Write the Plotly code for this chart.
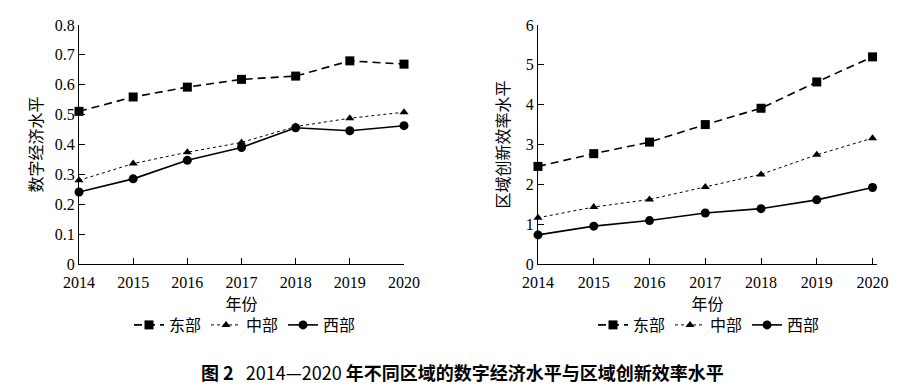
import plotly.graph_objects as go

years = [2014, 2015, 2016, 2017, 2018, 2019, 2020]
series_names = ["东部", "中部", "西部"]
digital_east = [0.511, 0.559, 0.592, 0.618, 0.629, 0.680, 0.669]
digital_central = [0.280, 0.336, 0.374, 0.407, 0.460, 0.488, 0.508]
digital_west = [0.241, 0.285, 0.347, 0.390, 0.456, 0.446, 0.463]
innov_east = [2.45, 2.77, 3.06, 3.50, 3.91, 4.57, 5.20]
innov_central = [1.16, 1.43, 1.62, 1.93, 2.25, 2.74, 3.16]
innov_west = [0.73, 0.95, 1.09, 1.28, 1.39, 1.61, 1.92]

W, H = 907, 388
serif = "Liberation Serif, Times New Roman, serif"
cjk = "Noto Sans CJK SC, sans-serif"

styles = [
    dict(line=dict(color="black", width=1.6, dash="8px,5px"), marker=dict(symbol="square", size=9, color="black")),
    dict(line=dict(color="black", width=1.0, dash="dot"), marker=dict(symbol="triangle-up", size=8, color="black")),
    dict(line=dict(color="black", width=1.6, dash="solid"), marker=dict(symbol="circle", size=9, color="black")),
]

fig = go.Figure()
left_sets = [digital_east, digital_central, digital_west]
right_sets = [innov_east, innov_central, innov_west]
for name, vals, st in zip(series_names, left_sets, styles):
    fig.add_trace(go.Scatter(x=years, y=vals, name=name, mode="lines+markers",
                             xaxis="x", yaxis="y", legend="legend", cliponaxis=False, **st))
for name, vals, st in zip(series_names, right_sets, styles):
    fig.add_trace(go.Scatter(x=years, y=vals, name=name, mode="lines+markers",
                             xaxis="x2", yaxis="y2", legend="legend2", cliponaxis=False, **st))

ydom = [(H - 264) / H, (H - 25) / H]
axis_common = dict(showline=True, linecolor="black", linewidth=1.2, ticks="inside", ticklen=6,
                   tickcolor="black", showgrid=False, zeroline=False, automargin=False,
                   tickfont=dict(family=serif, size=16, color="black"))
xcommon = dict(ticklabelstandoff=4)
tfont = dict(family=cjk, size=16, color="black")

fig.update_layout(
    width=W, height=H,
    margin=dict(l=0, r=0, t=0, b=0),
    paper_bgcolor="white", plot_bgcolor="white",
    xaxis=dict(domain=[79 / W, 404 / W], range=[2014, 2020], dtick=1, anchor="y",
               title=dict(text="年份", font=tfont, standoff=4),
               **axis_common, **xcommon),
    yaxis=dict(domain=ydom, range=[0, 0.8], dtick=0.1, anchor="x", tickformat="~g",
               title=dict(text="数字经济水平", font=tfont, standoff=8),
               **axis_common),
    xaxis2=dict(domain=[538 / W, 877 / W], range=[2014, 2020.08], tickvals=years, anchor="y2",
                title=dict(text="年份", font=tfont, standoff=4),
                **axis_common, **xcommon),
    yaxis2=dict(domain=ydom, range=[0, 6], dtick=1, anchor="x2",
                title=dict(text="区域创新效率水平", font=tfont, standoff=12),
                **axis_common),
    legend=dict(orientation="h", x=245 / W, xanchor="center", y=(H - 325) / H, yanchor="middle",
                font=tfont, bgcolor="rgba(0,0,0,0)"),
    legend2=dict(orientation="h", x=709 / W, xanchor="center", y=(H - 325) / H, yanchor="middle",
                 font=tfont, bgcolor="rgba(0,0,0,0)"),
    showlegend=True,
    annotations=[dict(text="<b>图 2</b>   2014—2020 <b>年不同区域的数字经济水平与区域创新效率水平</b>",
                      x=462 / W, y=(H - 372) / H, xref="paper", yref="paper",
                      xanchor="center", yanchor="middle", showarrow=False,
                      font=dict(family=cjk, size=18, color="black"))],
)

fig.write_html("out.html", config={"displayModeBar": False},
               post_script="document.body.style.margin='0px';document.body.style.overflow='hidden';")
